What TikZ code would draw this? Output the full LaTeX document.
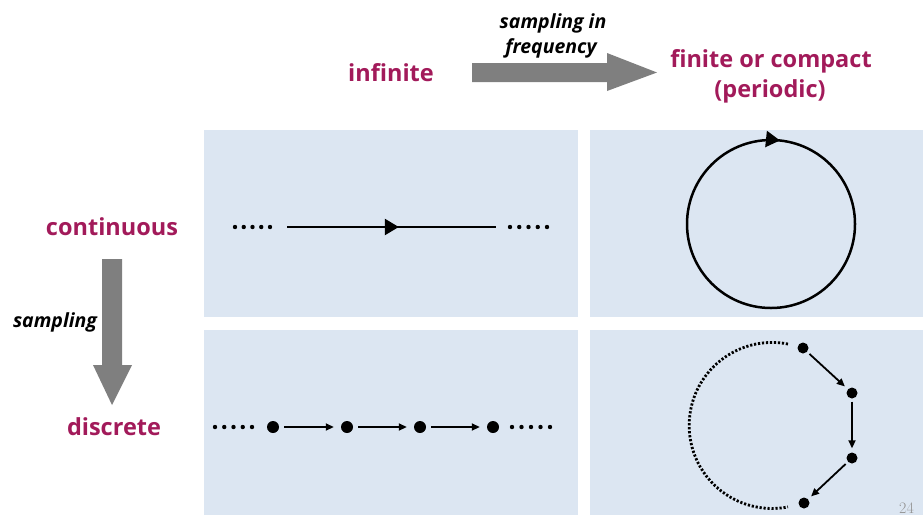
\documentclass[tikz,border=0pt]{standalone}
\usepackage{fontspec}
\setmainfont{Open Sans}
\usetikzlibrary{arrows.meta,decorations.markings}
\definecolor{panelblue}{HTML}{DCE6F2}
\definecolor{headred}{HTML}{A21A5A}
\definecolor{blockgray}{HTML}{7F7F7F}
\tikzset{
  panel/.style={fill=panelblue, draw=none},
  heading/.style={font=\fontsize{23.5}{28}\selectfont\bfseries, text=headred, inner sep=0pt, anchor=base},
  note/.style={font=\fontsize{19.5}{22}\selectfont\bfseries\itshape, inner sep=0pt, anchor=base},
  blockarrow/.style={fill=blockgray, draw=none},
  bigdot/.style={circle, fill=black, inner sep=0pt, minimum size=12pt},
  smalldot/.style={circle, fill=black, inner sep=0pt, minimum size=11pt},
  seqarrow/.style={-{Triangle[length=8pt,width=7pt]}, line width=1.8pt, shorten <=5pt, shorten >=7pt},
  ringarrow/.style={-{Triangle[length=8pt,width=7pt]}, line width=1.8pt, shorten <=3pt, shorten >=4pt},
  flowline/.style={line width=2.5pt},
  midtip/.style={postaction={decorate}, decoration={markings,
      mark=at position #1 with {\arrow{Triangle[length=14pt,width=16pt]}}}}
}
\begin{document}
\begin{tikzpicture}[x=1pt,y=-1pt]
  \useasboundingbox (0,0) rectangle (923,515);
  \clip (0,0) rectangle (923,515);

  % four panels
  \fill[panel] (204,130) rectangle (578,317);
  \fill[panel] (590,130) rectangle (923,317);
  \fill[panel] (204,330) rectangle (578,515);
  \fill[panel] (590,330) rectangle (923,515);

  % headings
  \node[heading] (inf) at (391,81) {infinite};
  \node[heading] (fin) at (771,67) {finite or compact};
  \node[heading] (per) at (770,97) {(periodic)};
  \node[heading] (cont) at (112,235) {continuous};
  \node[heading] (disc) at (114,435) {discrete};

  % block arrows with their labels
  \fill[blockarrow] (472,63) -- (607,63) -- (607,53) -- (657,72.5)
                    -- (607,91) -- (607,82) -- (472,82) -- cycle;
  \node[note] (sf1) at (553,28) {sampling in};
  \node[note] (sf2) at (551,53) {frequency};
  \fill[blockarrow] (102,259) -- (122,259) -- (122,365) -- (132,365)
                    -- (112,405) -- (93,365) -- (102,365) -- cycle;
  \node[note] (samp) at (55,327) {sampling};

  % continuous, infinite: a line
  \foreach \x in {235,243.75,252.5,261.25,270} \fill (\x,227) circle (2.2);
  \foreach \x in {510,519.25,528.5,537.75,547} \fill (\x,227) circle (2.2);
  \coordinate (la) at (287,227);
  \coordinate (lb) at (496,227);
  \draw[flowline, midtip=0.535] (la) -- (lb);

  % continuous, periodic: a circle
  \coordinate (cc) at (771,224);
  \draw[flowline, midtip=0.767] (cc) circle (84);

  % discrete, infinite: a chain of samples
  \foreach \x in {215,224.25,233.5,242.75,252} \fill (\x,427) circle (2.2);
  \foreach \x in {512,521.5,531,540.5,550} \fill (\x,427) circle (2.2);
  \node[bigdot] (d1) at (273,427) {};
  \node[bigdot] (d2) at (347,427) {};
  \node[bigdot] (d3) at (420,427) {};
  \node[bigdot] (d4) at (493,427) {};
  \draw[seqarrow] (d1) -- (d2);
  \draw[seqarrow] (d2) -- (d3);
  \draw[seqarrow] (d3) -- (d4);

  % discrete, periodic: samples on a circle
  \draw[line width=2.8pt, dash pattern=on 2.2pt off 1.8pt]
    (788,344) arc[start angle=-79, end angle=-281, radius=83];
  \node[smalldot] (p1) at (803,348) {};
  \node[smalldot] (p2) at (852,393) {};
  \node[smalldot] (p3) at (852,458) {};
  \node[smalldot] (p4) at (804,503) {};
  \draw[ringarrow] (p1) -- (p2);
  \draw[ringarrow] (p2) -- (p3);
  \draw[ringarrow] (p3) -- (p4);

  % page number
  \node[anchor=base west, inner sep=0pt, text=gray!85,
        font=\fontspec{Latin Modern Roman}\fontsize{16}{18}\selectfont] (pg) at (899,513) {24};
\end{tikzpicture}
\end{document}
